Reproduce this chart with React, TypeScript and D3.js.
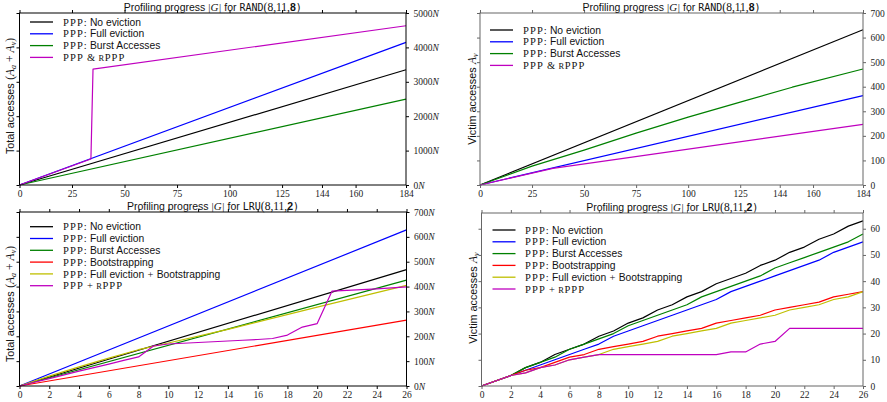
import React, { useEffect, useRef } from 'react';
import * as d3 from 'd3';

// ---- tick values ----
const randTicksX = [0, 25, 50, 75, 100, 125, 144, 160, 184];
const lruTicksX = [0, 2, 4, 6, 8, 10, 12, 14, 16, 18, 20, 22, 24, 26];
const totalRandTicksY = [0, 1000, 2000, 3000, 4000, 5000];
const victimRandTicksY = [0, 100, 200, 300, 400, 500, 600, 700];
const totalLruTicksY = [0, 100, 200, 300, 400, 500, 600, 700];
const victimLruTicksY = [0, 10, 20, 30, 40, 50, 60];

const lruSteps = [0, 1, 2, 3, 4, 5, 6, 7, 8, 9, 10, 11, 12, 13, 14, 15, 16, 17, 18, 19, 20, 21, 22, 23, 24, 25, 26];

// ---- RAND(8,11,8): total accesses (x N) ----
const randTotalNoEvict = [[0, 0], [184, 3350]];
const randTotalFull = [[0, 0], [184, 4146]];
const randTotalBurst = [[0, 0], [184, 2495]];
const randTotalRppp = [[0, 0], [34, 755], [35, 3370], [184, 4630]];

// ---- RAND(8,11,8): victim accesses ----
const randVictimNoEvict = [[0, 0], [184, 632]];
const randVictimFull = [[0, 0], [184, 364]];
const randVictimBurst = [[0, 0], [25, 77], [50, 142], [75, 211], [100, 276], [125, 337], [150, 398], [184, 472]];
const randVictimRppp = [[0, 0], [35, 68], [184, 247]];

// ---- LRU(8,11,2): total accesses (x N) ----
const lruTotalNoEvict = [[0, 0], [26, 468]];
const lruTotalFull = [[0, 0], [26, 628]];
const lruTotalBurst = [[0, 0], [26, 426]];
const lruTotalBoot = [[0, 0], [26, 265]];
const lruTotalFullBoot = [[0, 0], [2, 40], [4, 77], [6, 112], [8, 146], [10, 173], [14, 228], [20, 317], [26, 405]];
const lruTotalRppp = [0, 15, 30, 45, 60, 74, 88, 103, 117, 161, 169, 172, 175, 178, 181, 184, 187, 191, 205, 237, 251, 382, 385, 388, 391, 395, 399];

// ---- LRU(8,11,2): victim accesses ----
const lruVictimNoEvict = [0, 2, 4, 7, 9, 12, 14, 16, 19, 21, 24, 26, 29, 31, 34, 36, 39, 41, 43, 46, 48, 51, 53, 56, 58, 61, 63];
const lruVictimFull = [0, 2, 4, 6, 8, 10, 12, 14, 16, 19, 21, 23, 25, 27, 29, 31, 33, 36, 38, 40, 42, 44, 46, 48, 51, 53, 55];
const lruVictimBurst = [0, 2, 4, 7, 9, 11, 14, 16, 18, 20, 23, 25, 27, 29, 31, 34, 36, 38, 40, 42, 45, 47, 49, 51, 53, 55, 58];
const lruVictimBoot = [0, 2, 4, 6, 7, 9, 11, 12, 14, 15, 16, 17, 19, 20, 21, 22, 24, 25, 26, 27, 29, 30, 31, 32, 34, 35, 36];
const lruVictimFullBoot = [0, 2, 4, 5, 7, 8, 10, 11, 12, 14, 15, 16, 17, 19, 20, 21, 22, 24, 25, 26, 27, 29, 30, 31, 33, 34, 36];
const lruVictimRppp = [0, 2, 4, 5, 7, 8, 10, 11, 12, 12, 12, 12, 12, 12, 12, 12, 12, 13, 13, 16, 17, 22, 22, 22, 22, 22, 22];

const C = { black: '#000000', blue: '#0000ff', green: '#008000', red: '#ff0000', yellow: '#bfbf00', magenta: '#bf00bf' };

const steps = (vals) => vals.map((v, i) => [lruSteps[i], v]);

const SERIF = '"Liberation Serif", "DejaVu Serif", serif';
const SANS = '"Liberation Sans", Arial, sans-serif';
const MONO = '"DejaVu Sans Mono", "Liberation Mono", monospace';

const panels = [
  {
    left: 19.5, right: 406, top: 13, bottom: 185, xDomain: [0, 184], yDomain: [0, 5000],
    xTicks: randTicksX, yTicks: totalRandTicksY, nSuffix: true, frame: '#000',
    title: 'RAND', titleArgs: '8', ylabel: 'total', ylabelX: 10, ylabelY: 96,
    legend: { x: 30, y: 22, textX: 63 },
    series: [
      { label: 'PPP: No eviction', color: C.black, pts: randTotalNoEvict },
      { label: 'PPP: Full eviction', color: C.blue, pts: randTotalFull },
      { label: 'PPP: Burst Accesses', color: C.green, pts: randTotalBurst },
      { label: 'PPP & rPPP', color: C.magenta, pts: randTotalRppp },
    ],
  },
  {
    left: 480, right: 863, top: 13, bottom: 185, xDomain: [0, 184], yDomain: [0, 700],
    xTicks: randTicksX, yTicks: victimRandTicksY, nSuffix: false, frame: '#666',
    title: 'RAND', titleArgs: '8', ylabel: 'victim', ylabelX: 472, ylabelY: 99,
    legend: { x: 490, y: 30, textX: 523 },
    series: [
      { label: 'PPP: No eviction', color: C.black, pts: randVictimNoEvict },
      { label: 'PPP: Full eviction', color: C.blue, pts: randVictimFull },
      { label: 'PPP: Burst Accesses', color: C.green, pts: randVictimBurst },
      { label: 'PPP & rPPP', color: C.magenta, pts: randVictimRppp },
    ],
  },
  {
    left: 19.5, right: 406.5, top: 212, bottom: 386, xDomain: [0, 26], yDomain: [0, 700],
    xTicks: lruTicksX, yTicks: totalLruTicksY, nSuffix: true, frame: '#000',
    title: 'LRU', titleArgs: '2', ylabel: 'total', ylabelX: 10, ylabelY: 304,
    legend: { x: 30, y: 226.7, textX: 63 },
    series: [
      { label: 'PPP: No eviction', color: C.black, pts: lruTotalNoEvict },
      { label: 'PPP: Full eviction', color: C.blue, pts: lruTotalFull },
      { label: 'PPP: Burst Accesses', color: C.green, pts: lruTotalBurst },
      { label: 'PPP: Bootstrapping', color: C.red, pts: lruTotalBoot },
      { label: 'PPP: Full eviction + Bootstrapping', color: C.yellow, pts: lruTotalFullBoot },
      { label: 'PPP + rPPP', color: C.magenta, pts: steps(lruTotalRppp) },
    ],
  },
  {
    left: 481.5, right: 863, top: 213, bottom: 386, xDomain: [0, 26], yDomain: [0, 66],
    xTicks: lruTicksX, yTicks: victimLruTicksY, nSuffix: false, frame: '#666',
    title: 'LRU', titleArgs: '2', ylabel: 'victim', ylabelX: 473, ylabelY: 298,
    legend: { x: 492.5, y: 230, textX: 525 },
    series: [
      { label: 'PPP: No eviction', color: C.black, pts: steps(lruVictimNoEvict) },
      { label: 'PPP: Full eviction', color: C.blue, pts: steps(lruVictimFull) },
      { label: 'PPP: Burst Accesses', color: C.green, pts: steps(lruVictimBurst) },
      { label: 'PPP: Bootstrapping', color: C.red, pts: steps(lruVictimBoot) },
      { label: 'PPP: Full eviction + Bootstrapping', color: C.yellow, pts: steps(lruVictimFullBoot) },
      { label: 'PPP + rPPP', color: C.magenta, pts: steps(lruVictimRppp) },
    ],
  },
];

// lay out mixed-font pieces as separate <text> nodes, one after the other
function richText(parent, segs, x, y, anchor) {
  const grp = parent.append('g');
  let cx = 0;
  segs.forEach(s => {
    cx += s.gap || 0;
    const t = grp.append('text').attr('x', cx).attr('y', s.dy || 0)
      .attr('font-family', s.f).attr('font-size', s.size).attr('fill', '#111')
      .text(s.t);
    if (s.italic) t.attr('font-style', 'italic');
    if (s.bold) t.attr('font-weight', 'bold');
    if (s.ls) t.attr('letter-spacing', s.ls);
    cx += t.node().getComputedTextLength();
  });
  const shift = anchor === 'middle' ? -cx / 2 : 0;
  grp.attr('transform', `translate(${x + shift},${y})`);
  return grp;
}

// legend label -> serif "PPP", small-caps "r", sans words
function labelSegs(label) {
  const segs = [];
  const parts = label.split(/(PPP|r(?=PPP)|[:&+])/).filter(s => s !== '');
  let pendingGap = 0;
  parts.forEach(p => {
    if (p.trim() === '') { pendingGap += 3.2; return; }
    const lead = p.startsWith(' ') ? 3.2 : 0;
    const trail = p.endsWith(' ') ? 3.2 : 0;
    const t = p.trim();
    let seg;
    if (t === 'r') seg = { t: 'R', f: SERIF, size: 8.5, ls: 0.6 };
    else if (t === 'PPP') seg = { t, f: SERIF, size: 10.5, ls: 1.1 };
    else if (t === ':' || t === '&' || t === '+') seg = { t, f: SERIF, size: 10.5 };
    else seg = { t, f: SANS, size: 10.3 };
    seg.gap = pendingGap + lead;
    pendingGap = trail;
    segs.push(seg);
  });
  return segs;
}

function drawPanel(root, p) {
  const g = root.append('g');
  const x = d3.scaleLinear().domain(p.xDomain).range([p.left, p.right]);
  const y = d3.scaleLinear().domain(p.yDomain).range([p.bottom, p.top]);

  const styleAxis = (a) => {
    a.selectAll('path.domain').remove();
    a.selectAll('line').attr('stroke', p.frame);
    a.selectAll('text').attr('font-family', SERIF).attr('font-size', 9.5).attr('fill', '#222');
  };

  g.append('g').attr('transform', `translate(0,${p.bottom})`)
    .call(d3.axisBottom(x).tickValues(p.xTicks).tickSize(3).tickPadding(2).tickSizeOuter(0).tickFormat(d => String(d)))
    .call(styleAxis);
  g.append('g').attr('transform', `translate(0,${p.top})`)
    .call(d3.axisTop(x).tickValues(p.xTicks).tickSize(3).tickFormat(() => '').tickSizeOuter(0))
    .call(styleAxis);
  g.append('g').attr('transform', `translate(${p.left},0)`)
    .call(d3.axisLeft(y).tickValues(p.yTicks).tickSize(3).tickFormat(() => '').tickSizeOuter(0))
    .call(styleAxis);
  const ra = g.append('g').attr('transform', `translate(${p.right},0)`)
    .call(d3.axisRight(y).tickValues(p.yTicks).tickSize(3).tickPadding(4.6).tickSizeOuter(0).tickFormat(d => String(d)))
    .call(styleAxis);
  if (p.nSuffix) {
    ra.selectAll('.tick').each(function () {
      const tk = d3.select(this);
      const txt = tk.select('text');
      const w = txt.node().getComputedTextLength();
      tk.append('text').attr('x', +txt.attr('x') + w).attr('dy', '0.32em')
        .attr('font-family', SERIF).attr('font-size', 9.5).attr('font-style', 'italic')
        .attr('fill', '#222').text('N');
    });
  }

  const line = d3.line().x(d => x(d[0])).y(d => y(d[1]));
  p.series.forEach(s => {
    g.append('path').datum(s.pts).attr('d', line).attr('fill', 'none')
      .attr('stroke', s.color).attr('stroke-width', 1.2).attr('stroke-linejoin', 'round');
  });

  g.append('rect').attr('x', p.left).attr('y', p.top)
    .attr('width', p.right - p.left).attr('height', p.bottom - p.top)
    .attr('fill', 'none').attr('stroke', p.frame).attr('stroke-width', 1);

  // legend
  p.series.forEach((s, i) => {
    const yy = p.legend.y + i * 11.8;
    g.append('line').attr('x1', p.legend.x).attr('x2', p.legend.x + 23)
      .attr('y1', yy).attr('y2', yy).attr('stroke', s.color).attr('stroke-width', 1.3);
    richText(g, labelSegs(s.label), p.legend.textX, yy + 3.6, 'start');
  });

  // title
  richText(g, [
    { t: 'Profiling progress', f: SANS, size: 10.5 },
    { t: '|', f: SERIF, size: 11, gap: 3 },
    { t: 'G', f: SERIF, size: 11, italic: true },
    { t: '|', f: SERIF, size: 11, gap: 0.5 },
    { t: 'for', f: SANS, size: 10.5, gap: 3 },
    { t: p.title, f: MONO, size: 10, gap: 3 },
    { t: '(8,11,', f: SERIF, size: 11.5 },
    { t: p.titleArgs, f: SANS, size: 10.5, bold: true },
    { t: ')', f: MONO, size: 10 },
  ], (p.left + p.right) / 2, p.top - 2.5, 'middle');

  // y label
  const yl = g.append('g').attr('transform', `translate(${p.ylabelX + 4},${p.ylabelY}) rotate(-90)`);
  if (p.ylabel === 'total') {
    richText(yl, [
      { t: 'Total accesses', f: SANS, size: 10.8 },
      { t: '(', f: SERIF, size: 11.5, gap: 3.5 },
      { t: 'A', f: SERIF, size: 11.5, italic: true },
      { t: 'a', f: SERIF, size: 8, italic: true, dy: 2 },
      { t: '+', f: SERIF, size: 11.5, gap: 3 },
      { t: 'A', f: SERIF, size: 11.5, italic: true, gap: 3 },
      { t: 'v', f: SERIF, size: 8, italic: true, dy: 2 },
      { t: ')', f: SERIF, size: 11.5 },
    ], 0, 0, 'middle');
  } else {
    richText(yl, [
      { t: 'Victim accesses', f: SANS, size: 10.8 },
      { t: 'A', f: SERIF, size: 11.5, italic: true, gap: 3.5 },
      { t: 'v', f: SERIF, size: 8, italic: true, dy: 2 },
    ], 0, 0, 'middle');
  }
}

export default function App() {
  const svgRef = useRef(null);

  useEffect(() => {
    const svg = d3.select(svgRef.current);
    svg.selectAll('*').remove();
    svg.append('rect').attr('width', 887).attr('height', 402).attr('fill', '#fff');
    panels.forEach(p => drawPanel(svg, p));
  }, []);

  return (
    <svg ref={svgRef} width={887} height={402}
      style={{ position: 'absolute', left: 0, top: 0, display: 'block' }} />
  );
}
